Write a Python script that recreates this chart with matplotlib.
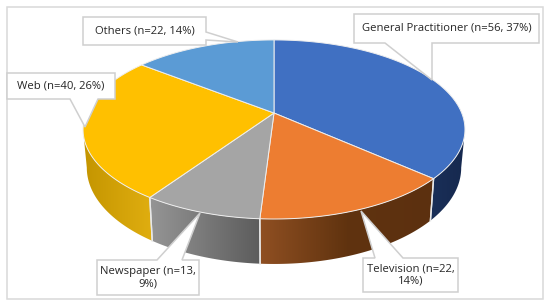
import numpy as np
import matplotlib
matplotlib.use('Agg')
import matplotlib.pyplot as plt
from matplotlib.patches import Polygon, Rectangle
from matplotlib.colors import LinearSegmentedColormap

categorias = ['General Practitioner', 'Television', 'Newspaper', 'Web', 'Others']
valores_n = [56, 22, 13, 40, 22]
percentuais = [37, 14, 9, 26, 14]
quebra_linha = [False, True, True, False, False]
cores = ['#4070c2', '#ed7d31', '#a5a5a5', '#ffc000', '#5b9bd5']
cores_lado = [['#1a2f58', '#16294f'], ['#8f4f22', '#60330f', '#5c3010'], ['#959595', '#5c5c5c'],
              ['#c49500', '#e0ae10'], ['#5b9bd5', '#5b9bd5']]

plt.rcParams['font.family'] = ['Open Sans', 'DejaVu Sans']

# perspectiva da pizza, em pixels
CX, K = 274.0, 0.184


def topo(theta):
    t = np.radians(theta)
    d = 1 + K * np.cos(t)
    return CX + 187.7 * np.sin(t) / d, 113 - 86.5 * np.cos(t) / d


def base(theta):
    t = np.radians(theta)
    d = 1 + K * np.cos(t)
    return CX + 184.0 * np.sin(t) / d, 150 - 93.0 * np.cos(t) / d


def balao(ax, caixa, cauda, texto):
    x0, y0, x1, y1 = caixa
    a, ponta, b = cauda
    # a cauda sai do lado da caixa mais perto da ponta
    if ponta[1] > y1:
        pts = [(x0, y0), (x1, y0), (x1, y1), b, ponta, a, (x0, y1)]
    elif ponta[1] < y0:
        pts = [(x0, y0), a, ponta, b, (x1, y0), (x1, y1), (x0, y1)]
    else:
        pts = [(x0, y0), (x1, y0), a, ponta, b, (x1, y1), (x0, y1)]
    ax.add_patch(Polygon(pts, closed=True, fc='white', ec='#cfcfcf', lw=1.1, zorder=5))
    ax.text((x0 + x1) / 2, (y0 + y1) / 2, texto, ha='center', va='center', fontsize=8.1,
            color='#262626', linespacing=1.2, zorder=6)


fig = plt.figure(figsize=(5.5, 3.05), dpi=100)
ax = fig.add_axes([0, 0, 1, 1])
ax.set_xlim(0, 550)
ax.set_ylim(305, 0)
ax.axis('off')

ax.add_patch(Rectangle((7, 7), 536, 292, fc='white', ec='#d9d9d9', lw=1.1, zorder=0))

cortes = np.cumsum([0] + valores_n) / sum(valores_n) * 360
lim_a, lim_b = 100.6, 259.4

# lateral
for i in range(len(valores_n)):
    a, b = max(cortes[i], lim_a), min(cortes[i + 1], lim_b)
    if b <= a:
        continue
    th = np.linspace(a, b, 60)
    xt, yt = topo(th)
    xb, yb = base(th)
    pts = np.r_[np.c_[xt, yt], np.c_[xb, yb][::-1]]
    mapa = LinearSegmentedColormap.from_list('lado', cores_lado[i])
    x0, x1 = pts[:, 0].min(), pts[:, 0].max()
    y0, y1 = pts[:, 1].min(), pts[:, 1].max()
    # gradiente da esquerda para a direita; o laranja e o cinza escurecem para a direita
    grad = np.linspace(0, 1, 128).reshape(1, -1)
    im = ax.imshow(grad, cmap=mapa, extent=[x0, x1, y1, y0], aspect='auto', zorder=1)
    clip = Polygon(pts, closed=True, transform=ax.transData)
    im.set_clip_path(clip)
    for t in (a, b):
        if lim_a < t < lim_b:
            xa, ya = topo(t)
            xc, yc = base(t)
            ax.plot([xa, xc], [ya, yc], color='#e8e8e8', lw=1, zorder=2)

ax.set_xlim(0, 550)
ax.set_ylim(305, 0)

# topo
centro = (CX, 113)
for i in range(len(valores_n)):
    th = np.linspace(cortes[i], cortes[i + 1], 120)
    xt, yt = topo(th)
    pts = np.r_[[centro], np.c_[xt, yt]]
    ax.add_patch(Polygon(pts, closed=True, fc=cores[i], ec='#eeeeee', lw=0.7, zorder=3))

rotulos = []
for c, n, p, q in zip(categorias, valores_n, percentuais, quebra_linha):
    sep = '\n' if q else ' '
    rotulos.append(f'{c} (n={n},{sep}{p}%)')

balao(ax, (354, 14, 539, 43), ((385, 43), (432, 80), (432, 43)), rotulos[0])
balao(ax, (363, 258, 458, 292), ((375, 258), (361, 211), (403, 258)), rotulos[1])
balao(ax, (97, 260, 199, 295), ((157, 260), (200, 213), (182, 260)), rotulos[2])
balao(ax, (7, 73, 115, 99), ((70, 99), (85, 127), (98, 99)), rotulos[3])
balao(ax, (83, 17, 206, 45), ((206, 32), (238, 42), (206, 40)), rotulos[4])

fig.savefig('out.png', dpi=100)
